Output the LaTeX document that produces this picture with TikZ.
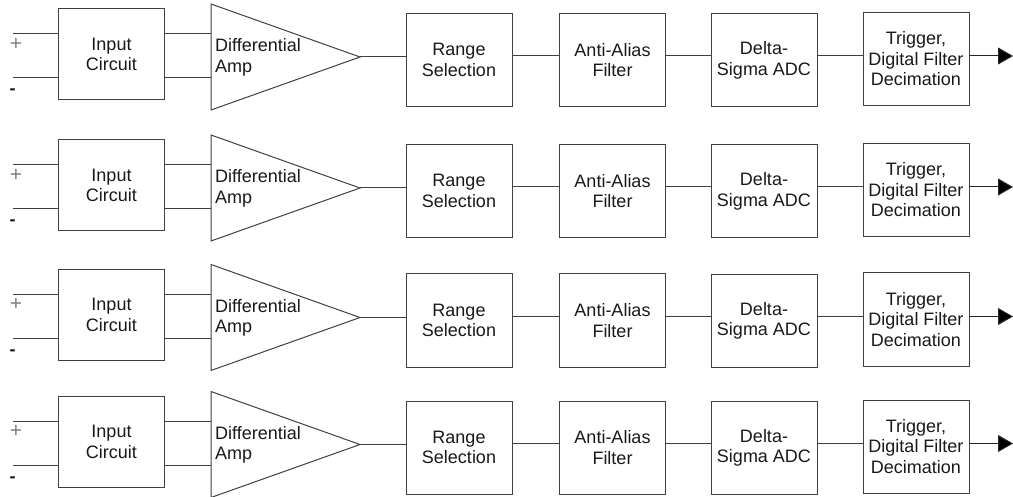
\documentclass[tikz,border=0pt]{standalone}
\usepackage{fontspec}
\setmainfont{Liberation Sans}
\usetikzlibrary{arrows.meta}
\tikzset{
  lbl/.style={font=\fontsize{18}{20.5}\selectfont, text=black!90, inner sep=0pt},
  blk/.style={lbl, draw=black!75, line width=1pt, minimum width=106pt,
              minimum height=93pt, align=center},
  inbox/.style={blk, minimum height=91pt},
  wire/.style={draw=black!75, line width=1pt},
  amp/.style={draw=black!75, line width=1pt, line join=miter},
  outarrow/.style={draw=black!85, line width=1pt, -{Triangle[length=15pt,width=17pt,fill=black]}},
}
\begin{document}
\begin{tikzpicture}[x=1pt, y=-1pt]
  \useasboundingbox (0,0) rectangle (1013,497);
  \foreach \c [count=\i] in {57,188,317.5,444.5} {
    % input terminals
    \coordinate (ip\i) at (13,\c-23);
    \coordinate (im\i) at (13,\c+21);
    \node[lbl, font=\fontsize{21}{24}\selectfont, text=black!50] (plus\i) at (16,\c-13) {+};
    \node[lbl, font=\fontsize{18}{20.5}\selectfont\bfseries] (minus\i) at (12.5,\c+35) {-};
    % input circuit
    \node[inbox] (ic\i) at (111.5,\c-2.5) {Input\\Circuit};
    % differential amplifier
    \coordinate (ampL\i) at (211,\c);
    \coordinate (tip\i) at (360,\c);
    \draw[amp] (211,\c-53) -- (tip\i) -- (211,\c+53) -- cycle;
    \node[lbl, anchor=west, align=left] (ampt\i) at (215,\c+0.5) {Differential\\Amp};
    % processing chain
    \node[blk] (rs\i) at (459,\c+3) {Range\\Selection};
    \node[blk] (aa\i) at (612.5,\c+3) {Anti-Alias\\Filter};
    \node[blk] (ds\i) at (764,\c+3.5) {Delta-\\Sigma ADC};
    \node[blk] (tr\i) at (916,\c+2) {Trigger,\\Digital Filter\\Decimation};
    \coordinate (out\i) at (1013,\c-1);
    % connections
    \draw[wire] (ip\i) -- (ip\i -| ic\i.west);
    \draw[wire] (im\i) -- (im\i -| ic\i.west);
    \draw[wire] (ic\i.east |- ip\i) -- (ampL\i |- ip\i);
    \draw[wire] (ic\i.east |- im\i) -- (ampL\i |- im\i);
    \draw[wire] (tip\i) -- (rs\i.west |- tip\i);
    \draw[wire] (rs\i.east |- out\i) -- (aa\i.west |- out\i);
    \draw[wire] (aa\i.east |- out\i) -- (ds\i.west |- out\i);
    \draw[wire] (ds\i.east |- out\i) -- (tr\i.west |- out\i);
    \draw[outarrow] (tr\i.east |- out\i) -- (out\i);
  }
\end{tikzpicture}
\end{document}
